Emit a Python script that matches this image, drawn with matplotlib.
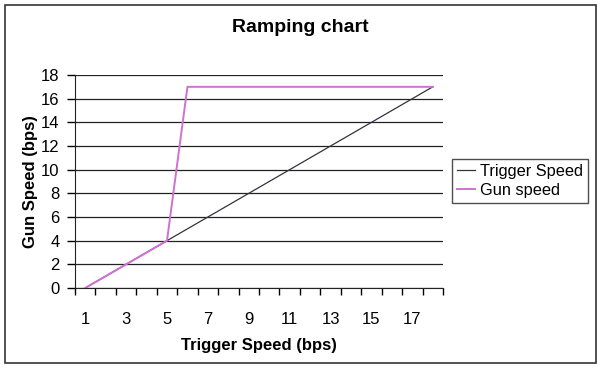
import matplotlib
matplotlib.use("Agg")
import matplotlib.pyplot as plt
from matplotlib.patches import Rectangle

plt.rcParams['font.family'] = ['Liberation Sans', 'DejaVu Sans']

categories = list(range(1, 19))
trigger_speed = [0, 1, 2, 3, 4, 5, 6, 7, 8, 9, 10, 11, 12, 13, 14, 15, 16, 17]
gun_speed = [0, 1, 2, 3, 4, 17, 17, 17, 17, 17, 17, 17, 17, 17, 17, 17, 17, 17]
tick_labels = [str(c) if c % 2 == 1 else "" for c in categories]
y_ticks = list(range(0, 19, 2))

W, H = 602, 369
fig = plt.figure(figsize=(W / 100, H / 100), dpi=100)
fig.patch.set_facecolor('white')

# outer chart border
fig.patches.append(Rectangle((4.5 / W, 1 - 363 / H), (596 - 4.5) / W, (363 - 5) / H,
                             transform=fig.transFigure, fill=False,
                             edgecolor='#333333', linewidth=1.2))

ax = fig.add_axes([75 / W, 1 - 288 / H, (443 - 75) / W, (288 - 75) / H])
ax.set_facecolor('white')

ax.plot(categories, trigger_speed, color='#333340', linewidth=0.9, label='Trigger Speed')
ax.plot(categories, gun_speed, color='#d070d0', linewidth=1.4, label='Gun speed')

ax.set_xlim(0.5, 18.5)
ax.set_ylim(0, 18)
ax.set_yticks(y_ticks)
ax.set_xticks(categories)
ax.set_xticklabels(tick_labels)
ax.set_xticks([c + 0.5 for c in [0] + categories], minor=True)
ax.tick_params(axis='x', which='major', length=0, pad=17, labelsize=12)
ax.tick_params(axis='x', which='minor', length=5, direction='out', width=1)
ax.tick_params(axis='y', length=6, direction='out', width=1, labelsize=12, pad=5)

ax.grid(axis='y', color='#222222', linewidth=0.9)
ax.set_axisbelow(True)
for s in ['top', 'right']:
    ax.spines[s].set_visible(False)
ax.spines['left'].set_color('#222222')
ax.spines['bottom'].set_color('#222222')

ax.set_xlabel('Trigger Speed (bps)', fontsize=12, fontweight='bold', labelpad=8)
ax.set_ylabel('Gun Speed (bps)', fontsize=12, fontweight='bold', labelpad=2)

fig.text(300 / W, 1 - 28 / H, 'Ramping chart', ha='center', va='center',
         fontsize=14, fontweight='bold')

leg = fig.legend(loc='upper left', bbox_to_anchor=(452 / W, 1 - 159 / H),
                 frameon=True, fancybox=False, fontsize=11.8, handlelength=1.1,
                 handletextpad=0.3, borderpad=0.3, labelspacing=0.25,
                 borderaxespad=0)
leg.get_frame().set_edgecolor('#222222')
leg.get_frame().set_linewidth(1.0)

fig.savefig('out.png', dpi=100, facecolor='white')
